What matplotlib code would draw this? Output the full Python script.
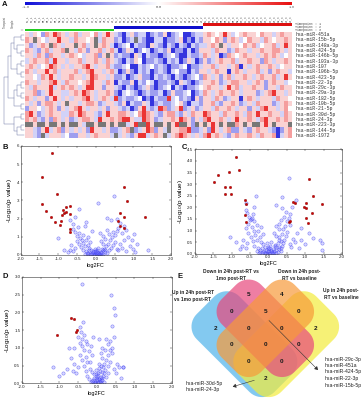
import numpy as np
import matplotlib
matplotlib.use('Agg')
import matplotlib.pyplot as plt
from matplotlib.colors import LinearSegmentedColormap
from matplotlib.patches import Rectangle, Polygon, FancyArrowPatch

plt.rcParams['font.family'] = ['Liberation Sans', 'DejaVu Sans']

# ---------------- data ----------------
mirs = ['hsa-miR-451a', 'hsa-miR-15b-5p', 'hsa-miR-148a-3p', 'hsa-miR-424-5p',
        'hsa-miR-146b-5p', 'hsa-miR-103a-3p', 'hsa-miR-107', 'hsa-miR-106b-5p',
        'hsa-miR-423-5p', 'hsa-miR-22-3p', 'hsa-miR-29c-3p', 'hsa-miR-29a-3p',
        'hsa-miR-182-5p', 'hsa-miR-10b-5p', 'hsa-miR-21-5p', 'hsa-miR-30d-5p',
        'hsa-miR-24-3p', 'hsa-miR-223-3p', 'hsa-miR-144-5p', 'hsa-miR-1972']
patient_ids = ['01', '02', '03', '04', '05', '06', '07', '08', '09', '10', '11',
               '12', '13', '14', '15', '16', '17', '18', '19', '20', '21', '22']
timepoints = ['1', '2', '3']
group_colors = ['#22cc22', '#1010cc', '#dd1111']

# heatmap levels: B=strong down, b, l, . , p, r, R=strong up, x=missing
heat_rows = [
    "plp.brpRrpl" "prlpp.rlpRp" "lbBlpbllBbl" "bpBbl.BBbll" "prp.pRpl.pr" "pp.rpplprpp",
    "rpxp.lppRpp" "lrpp.pxlrpp" "blBblxlbBBl" "lBbblpBbBlb" "pp.rpbprpl." "rpplrp.pprp",
    "pblprpxrplp" "pxprlpxprpl" "Bbl.BlbbBpl" "bBlbBlbBlbl" "lprpxplpp.r" "prl.pprlpRp",
    "rplbprlpprx" "plrpbpprlpr" "lBbplBb.lBb" "lbpBbbBlBbp" "pplrppblrpp" "lpprpprrplp",
    "pplrpbrpplp" "rp.lpprbpxp" "blbbBplBlbb" "Bbl.bBBlbbl" "rplpBbrp.pr" "pplprprpl.p",
    "lprpprlRppl" "pprlpprplrp" "lbBlbp.Bbbl" "bBlblBbplBb" "pblprpprlpp" "rppbrplpprp",
    "prpl.pRrplp" "lpprRplpprl" "bbl.BBlbl.b" "lbBbbl.Bbbl" "pprlpplprBp" "lprpprpl.pp",
    "rplppRprlpp" "prlprRpplpr" "lBbpbBlblBb" "lbBl.bbBlbp" "plprppBprpl" "pprlpbprppl",
    "pp.lrpRplpp" "rpplpRrpplp" "bblBblpbbBl" "blbBlbBbl.b" "rplpbprlppr" "plprpprlpRp",
    "rpplpprRplr" "pp.prRpplrp" "BlbbpBlb.lB" "bblbBplbBbl" "pprpblprrpp" "lprpbprppl.",
    "plrpppRlprp" "rplpRRppbpp" "lbBlbBblpbB" "bl.BlbBbbl." "prpplpRprlp" "prppbpplrpp",
    "pprblpRppll" "prpRrplpprp" "bBl.lbBblbb" "lBbpbbl.Bbl" "rplprpprplp" "ppblprRpplp",
    "rplppbpRplp" "lpprRplprpl" "Rblbbl.BbBl" "bbRl.blbBpb" "pplrpblppBp" "rplppplrpp.",
    "plpbprrplpx" "pplprrpblpp" "lbpBlbbplBb" "lbbl.pbBllb" "pprlbpprpbl" "plrpppblprp",
    "bpp.lprpbpl" "prRplpplpbp" "plblBbpRlbl" "RrblpRblpbl" "pplrpprplpp" "bplrRpplpr.",
    "rRpblprppll" "rpRrpplbpRp" "prrpl.rRrpl" "bprrlbplrpp" "Rrpplrpprpl" "rpRpprpplrp",
    "rprlbpbrplp" "blprrplRppr" "prRRpllRrpb" "lpprpRrpbpl" "rRpprplpRpp" "rplrRpprprp",
    "xxpxxpxxpxp" "xxplxxpxxpx" "pxxlpRxxRpx" "xpxpRxxpbxp" "xpRpxpxxrpx" "pxxpRpxpppx",
    "pplbpRlprbp" "lplpbRpplpb" "blprxblpRrb" "plxpprrRbbl" "pbRplprbbpl" "bprpplbBbpr",
    "pplbxlpppl." "bbpplprpppl" "xlplbpRRlpr" "pxlprRrplpl" "rRprplbprpp" "rplrpprBlpr",
]
level = {'B': -2.1, 'b': -1.0, 'l': -0.45, '.': 0.0, 'p': 0.45, 'r': 1.0, 'R': 2.1, 'x': np.nan}

# row dendrogram (leaf = row index)
row_tree = ((((((0, 1), (2, (3, 4))), ((5, 6), (7, 8))),
              (((9, 10), (11, 12)), (13, 14)))),
            ((15, 16), ((17, 18), 19)))

# volcano B
b_blue_x = [-0.05, 0.02, 0.08, -0.1, 0.05, -0.02, 0.12, -0.15, 0.0, 0.1, -0.08, 0.15, -0.2, 0.2, 0.04,
            -0.12, 0.18, -0.25, 0.25, -0.03, 0.07, -0.18, 0.22, -0.3, 0.3, 0.01, -0.06, 0.11, -0.22, 0.16,
            -0.35, 0.35, -0.4, 0.4, -0.28, 0.28, -0.45, 0.45, -0.5, 0.5, -0.33, 0.33, -0.55, 0.55, -0.6,
            0.6, -0.38, 0.38, -0.2, 0.2, -0.15, 0.15, -0.42, 0.42, -0.65, 0.65, -0.7, 0.7, -0.25, 0.25,
            0.75, -0.75, 0.8, 0.9, 1.0, 1.1, -0.85, 0.85, 0.95, 1.05,
            -0.5, 0.5, -0.55, 0.55, -0.62, 0.6, -0.45, 0.45, -0.35, 0.35, -0.6, 0.65, -0.3, 0.3, -0.25,
            0.4, -0.48, 0.7, 0.75, 0.2, -0.2, 0.8, 0.1, -0.1,
            0.48, 0.06, -0.45, -1.0, 1.38, 1.01, 0.29, 0.55, -0.55, -0.7,
            -0.04, 0.03, 0.09, -0.09, 0.13, -0.13, 0.06, -0.07, 0.17, -0.17, 0.0, 0.02, -0.01, 0.24, -0.24]
b_blue_y = [0.05, 0.03, 0.06, 0.1, 0.12, 0.15, 0.08, 0.05, 0.2, 0.18, 0.22, 0.14, 0.12, 0.05, 0.28,
            0.3, 0.25, 0.2, 0.15, 0.35, 0.4, 0.38, 0.35, 0.08, 0.1, 0.08, 0.02, 0.01, 0.03, 0.02,
            0.3, 0.28, 0.45, 0.4, 0.5, 0.48, 0.6, 0.55, 0.75, 0.7, 0.65, 0.62, 0.4, 0.35, 0.2,
            0.25, 0.8, 0.85, 0.55, 0.6, 0.7, 0.75, 0.95, 0.98, 0.55, 0.6, 0.3, 0.4, 0.85, 0.9,
            0.8, 0.15, 0.2, 0.5, 0.35, 0.6, 0.3, 1.0, 0.85, 0.15,
            1.05, 1.1, 1.25, 1.3, 1.45, 1.5, 1.2, 1.25, 1.1, 1.15, 1.7, 1.75, 1.6, 1.4, 1.8,
            1.9, 1.55, 1.2, 1.6, 1.05, 1.0, 1.35, 1.2, 1.3,
            3.24, 2.87, 2.51, 0.95, 0.27, 1.15, 2.05, 2.0, 2.1, 1.9,
            0.0, 0.01, 0.03, 0.04, 0.11, 0.07, 0.09, 0.14, 0.33, 0.26, 0.12, 0.17, 0.24, 0.27, 0.09]
b_red_x = [-1.16, -1.44, -1.43, -1.33, -1.19, -1.09, -1.04, -0.95, -0.93, -0.89, -0.87, -0.85, -0.80,
           -0.79, -0.69, -0.69, -0.70, -0.69, 0.76, 0.82, 0.64, 0.60, 0.75, 0.64, 0.75, 1.31]
b_red_y = [5.59, 4.30, 2.78, 2.42, 2.09, 1.80, 3.33, 1.65, 1.89, 2.20, 2.47, 2.33, 2.65,
           2.38, 2.71, 2.25, 1.41, 1.28, 3.75, 2.98, 2.33, 1.87, 2.10, 1.59, 1.47, 2.10]

# volcano C
c_blue_x = [-0.05, 0.03, 0.1, -0.12, 0.06, -0.02, 0.15, -0.18, 0.0, 0.12, -0.1, 0.2, -0.22, 0.25, 0.05,
            -0.15, 0.18, -0.28, 0.3, -0.05, 0.08, -0.2, 0.25, -0.32, 0.33, 0.02, -0.08, 0.12, -0.25, 0.2,
            0.3, 0.35, 0.28, 0.4, 0.35,
            -0.38, 0.38, -0.42, 0.42, -0.3, 0.3, -0.48, 0.48, -0.55, 0.52, -0.35, 0.36, -0.58, 0.58, -0.62,
            0.62, -0.4, 0.4, -0.22, 0.22, -0.15, 0.15, -0.45, 0.45, -0.68, 0.68, -0.72, 0.72, -0.28, 0.28,
            0.78, -0.78, 0.82, 0.9, 1.0, 1.1, -0.88, 0.9, -0.6, 0.6,
            -0.55, -0.5, -0.48, -0.45, -0.52, -0.42, -0.58, 0.5, 0.55, 0.42, 0.48, 0.38, 0.3, -0.3, -0.38,
            0.35, 0.2, -0.62, -0.2, 0.6, 0.65, -0.4,
            0.55, -0.33, 0.37, -1.03, 1.41, 1.45, 1.46, 1.21, 0.75, -0.6, 0.2,
            -0.03, 0.04, 0.09, -0.09, 0.14, -0.14, 0.07, -0.07, 0.18, -0.18, 0.0, 0.01, 0.22, -0.24]
c_blue_y = [0.05, 0.02, 0.08, 0.1, 0.15, 0.2, 0.05, 0.04, 0.28, 0.22, 0.3, 0.18, 0.15, 0.06, 0.35,
            0.4, 0.38, 0.25, 0.2, 0.45, 0.5, 0.5, 0.45, 0.1, 0.12, 0.1, 0.03, 0.02, 0.02, 0.01,
            0.3, 0.55, 0.6, 0.45, 0.25,
            0.35, 0.35, 0.55, 0.6, 0.6, 0.7, 0.7, 0.75, 0.9, 0.95, 0.8, 0.85, 0.45, 0.4, 0.25,
            0.3, 1.0, 1.05, 0.7, 0.75, 0.85, 0.9, 1.15, 1.2, 0.6, 0.65, 0.35, 0.5, 1.0, 1.05,
            0.9, 0.2, 0.25, 0.6, 0.4, 0.9, 0.5, 1.1, 1.1, 1.25,
            1.3, 1.45, 1.5, 1.55, 1.6, 1.7, 1.75, 1.4, 1.55, 1.6, 1.8, 1.95, 1.3, 1.25, 1.4,
            1.45, 1.2, 1.9, 1.15, 1.7, 2.0, 2.0,
            3.25, 2.49, 2.43, 0.73, 0.59, 0.45, 0.16, 0.69, 2.3, 2.2, 2.1,
            0.0, 0.01, 0.03, 0.05, 0.1, 0.07, 0.12, 0.16, 0.33, 0.26, 0.13, 0.24, 0.27, 0.08]
c_red_x = [-0.87, -1.48, -1.37, -1.08, -0.80, -1.17, -1.03, -1.17, -1.01, -0.64, -0.62, -0.64, -0.60,
           0.67, 0.72, 0.57, 0.59, 1.10, 1.21, 0.96, 1.03, 1.03, 1.19, 1.03, 1.07, 1.46]
c_red_y = [4.16, 3.10, 3.39, 3.53, 3.61, 2.86, 2.89, 2.57, 2.57, 2.31, 2.13, 1.67, 1.35,
           2.24, 2.17, 1.35, 1.40, 3.21, 2.49, 2.03, 2.17, 1.96, 1.77, 1.55, 1.34, 2.13]

# volcano D
d_blue_x = [-0.05, 0.02, 0.08, -0.1, 0.05, -0.02, 0.12, -0.15, 0.0, 0.1, -0.08, 0.15, -0.2, 0.2, 0.04,
            -0.12, 0.18, -0.25, 0.25, -0.03, 0.07, -0.18, 0.22, 0.01, -0.06, 0.11, 0.16, 0.12, 0.2, 0.05,
            -0.3, 0.3, -0.35, 0.3, -0.25, 0.25, -0.4, 0.35, -0.45, 0.4, -0.3, 0.3, -0.5, 0.45, -0.55,
            0.5, -0.35, 0.35, -0.18, 0.15, -0.12, 0.1, -0.4, 0.4, -0.6, 0.55, -0.65, 0.6, -0.22, 0.22,
            -0.7, -0.8, -0.9, -1.0, 0.65, -0.75, 0.7,
            -0.45, -0.4, -0.35, -0.5, -0.3, -0.42, -0.38, -0.45, -0.25, 0.3, 0.35, 0.4, 0.45, 0.25, -0.15,
            0.15, 0.05, -0.1,
            -0.39, 0.38, 0.46, 0.49, -1.16, 0.71, -0.6,
            -0.04, 0.03, 0.09, -0.09, 0.13, -0.13, 0.06, -0.07, 0.17, 0.0, 0.02, -0.01, 0.08, 0.14]
d_blue_y = [0.05, 0.03, 0.07, 0.1, 0.12, 0.16, 0.08, 0.05, 0.22, 0.18, 0.25, 0.15, 0.12, 0.05, 0.3,
            0.32, 0.28, 0.22, 0.18, 0.38, 0.42, 0.4, 0.38, 0.1, 0.02, 0.02, 0.45, 0.5, 0.55, 0.55,
            0.35, 0.3, 0.5, 0.5, 0.6, 0.65, 0.65, 0.6, 0.8, 0.85, 0.75, 0.8, 0.45, 0.4, 0.3,
            0.3, 0.95, 0.95, 0.6, 0.7, 0.8, 0.85, 1.05, 1.0, 0.55, 0.55, 0.35, 0.45, 0.9, 0.95,
            0.7, 0.4, 0.3, 0.2, 0.15, 1.0, 0.45,
            1.15, 1.25, 1.35, 1.3, 1.2, 1.45, 1.72, 1.6, 1.1, 1.1, 1.2, 1.62, 1.3, 1.25, 1.05,
            1.0, 1.25, 1.3,
            2.81, 2.5, 2.12, 1.93, 0.47, 0.45, 1.0,
            0.0, 0.01, 0.03, 0.04, 0.1, 0.07, 0.13, 0.16, 0.2, 0.12, 0.24, 0.27, 0.35, 0.33]
d_red_x = [-0.70, -0.61, -0.56, -0.52, -1.07]
d_red_y = [1.84, 1.81, 1.46, 1.51, 1.35]

# Venn (4 sets)
venn_sets = ['Up in 24h post-RT\nvs 1mo post-RT', 'Down in 24h post-RT vs\n1mo post-RT',
             'Down in 24h post-\nRT vs baseline', 'Up in 24h post-\nRT vs baseline']
venn_colors = ['#4fb3ea', '#e8487c', '#f79a3a', '#f3ec3c']
# (a, b) lattice cell -> count
venn_cells = [(-2, -1), (-2, 1), (-1, 2), (1, 2),
              (-2, 0), (-1, 1), (0, 2), (-1, 0), (0, 1), (-1, -1), (0, 0), (1, 1),
              (0, -1), (1, 0), (1, -1)]
venn_counts = [2, 5, 4, 2,
               0, 5, 0, 0, 0, 0, 0, 0,
               0, 0, 2]
list_common5 = ['hsa-miR-29c-3p', 'hsa-miR-451a', 'hsa-miR-424-5p', 'hsa-miR-22-3p', 'hsa-miR-15b-5p']
list_blue_yellow = ['hsa-miR-30d-5p', 'hsa-miR-24-3p']

# ---------------- figure ----------------
W, H = 364, 400
fig = plt.figure(figsize=(W / 100, H / 100), dpi=100)


def rect(l, t, r, b):
    return [l / W, 1 - b / H, (r - l) / W, (b - t) / H]


ov = fig.add_axes([0, 0, 1, 1])
ov.axis('off')

# ---- panel A : heatmap ----
HL, HR, HT, HB = 25, 292, 32, 138
ncol = 66
rowh = (HB - HT) / len(mirs)
colw = (HR - HL) / ncol
rows = []
for r in heat_rows:
    r = (r + '.' * ncol)[:ncol]
    rows.append([level[c] for c in r])
M = np.array(rows)
cmap = LinearSegmentedColormap.from_list('bwr2', ['#1010d8', '#ffffff', '#e81010'])
cmap.set_bad('#777777')
VM = 2.5
ov.imshow(np.ma.masked_invalid(M), cmap=cmap, vmin=-VM, vmax=VM,
          extent=(HL, HR, HB, HT), aspect='auto', interpolation='nearest', zorder=1)
# colour key
ov.imshow(np.linspace(-VM, VM, 256)[None, :], cmap=cmap, vmin=-VM, vmax=VM,
          extent=(HL, HR, 5, 2), aspect='auto', zorder=1)
for xv, t in [(HL, '-1.6'), ((HL + HR) / 2, '0.0'), (HR, '1.6')]:
    ov.text(xv, 7.2, t, fontsize=2.3, ha='center', va='center', color='#444',
            family='Liberation Mono')
# column labels
for j in range(ncol):
    lab = patient_ids[j % 22] + '_' + timepoints[j // 22]
    ov.text(HL + (j + 0.5) * colw, 21.5, lab, rotation=90, fontsize=2.0, ha='center',
            va='bottom', color='#555', family='Liberation Mono')
# group bars
bar_y = [28.5, 26.2, 23.4]
for g in range(3):
    ov.add_patch(Rectangle((HL + g * 22 * colw, bar_y[g]), 22 * colw, 2.6,
                           color=group_colors[g], lw=0, zorder=2))
for k, t in enumerate(timepoints):
    ov.text(295, 23.6 + k * 3.0, 'Timepoint : ' + t, fontsize=2.4, va='center',
            color='#444', family='Liberation Mono')
ov.text(5, 28, 'Timepoint', rotation=90, fontsize=2.0, va='bottom', ha='center', color='#555')
ov.text(13, 28, 'Sample', rotation=90, fontsize=2.0, va='bottom', ha='center', color='#555')
ov.plot([21, 23], [30, 30], color='#555', lw=0.3)
# row labels
for i, name in enumerate(mirs):
    ov.text(295, HT + (i + 0.5) * rowh, name, fontsize=3.5, va='center',
            color='#333', family='Liberation Mono')
# dendrogram
DX = 3.3


def draw_tree(node):
    if isinstance(node, int):
        return HT + (node + 0.5) * rowh, 0
    y1, h1 = draw_tree(node[0])
    y2, h2 = draw_tree(node[1])
    h = max(h1, h2) + 1
    xr = HL - 1 - h * DX
    ov.plot([HL - 1 - h1 * DX, xr, xr, HL - 1 - h2 * DX], [y1, y1, y2, y2],
            color='#6f7aa8', lw=0.35, zorder=2)
    return (y1 + y2) / 2, h


draw_tree(row_tree)

# ---- volcano plots ----
ylab = r'-Log$_{10}$(p value)'


def volcano(box, bx, by, rx, ry, ymax, ystep, yfmt):
    ax = fig.add_axes(rect(*box))
    ax.scatter(bx, by, s=5.5, facecolor=(0.5, 0.5, 1.0, 0.3),
               edgecolor=(0.25, 0.25, 0.95, 0.7), linewidth=0.35, zorder=2)
    ax.scatter(rx, ry, s=3, facecolor='#d40000', edgecolor='#7a0000', linewidth=0.3, zorder=3)
    ax.set_xlim(-2, 2)
    ax.set_ylim(0, ymax)
    xt = np.arange(-2, 2.01, 0.5)
    ax.set_xticks(xt)
    ax.set_xticklabels(['%.1f' % v for v in xt])
    yt = np.arange(0, ymax + 0.001, ystep)
    ax.set_yticks(yt)
    ax.set_yticklabels([yfmt % v for v in yt])
    ax.tick_params(direction='in', length=1.5, width=0.3, labelsize=3.2, pad=1.2,
                   top=True, right=True, colors='#222')
    for s in ax.spines.values():
        s.set_linewidth(0.4)
        s.set_color('#333')
    ax.set_xlabel('log2FC', fontsize=4.0, labelpad=1.5)
    ax.set_ylabel(ylab, fontsize=4.6, labelpad=1.5)
    return ax


volcano((20.7, 145.8, 171, 255), b_blue_x, b_blue_y, b_red_x, b_red_y, 6, 1, '%d')
volcano((194.7, 149.3, 342, 253.7), c_blue_x, c_blue_y, c_red_x, c_red_y, 4.5, 0.5, '%.1f')
volcano((22, 277, 171.7, 383.3), d_blue_x, d_blue_y, d_red_x, d_red_y, 3.0, 0.5, '%.1f')

# ---- panel E : Venn ----
VX, VY, STEP = 265.3, 345.0, 16.7


def to_px(a, b):
    return VX + (a + b) * STEP, VY + (a - b) * STEP


def rrect(a0, a1, b0, b1, r, n=12):
    pts = []
    corners = [(a1 - r, b1 - r, 0), (a0 + r, b1 - r, 90), (a0 + r, b0 + r, 180), (a1 - r, b0 + r, 270)]
    for ca, cb, st in corners:
        for t in np.linspace(np.radians(st), np.radians(st + 90), n):
            pts.append(to_px(ca + r * np.cos(t), cb + r * np.sin(t)))
    return pts


E = 0.18
shapes = [(-2.5 - E - 0.3, 1.5 + E, -1.5 - E - 0.2, 0.5 + E),   # blue
          (-2.5 - E, 1.5 + E, -0.5 - E, 1.5 + E),                # pink
          (-1.5 - E, 0.5 + E, -1.5 - E, 2.5 + E),                # orange
          (-0.5 - E, 1.5 + E + 0.2, -1.5 - E, 2.5 + E + 0.3)]    # yellow
order = [0, 3, 1, 2]
for k in order:
    a0, a1, b0, b1 = shapes[k]
    ov.add_patch(Polygon(rrect(a0, a1, b0, b1, 0.75), closed=True, facecolor=venn_colors[k],
                         edgecolor='none', alpha=0.7, zorder=3))
for (a, b), n in zip(venn_cells, venn_counts):
    x, y = to_px(a, b)
    ov.text(x, y, str(n), fontsize=4.6, fontweight='bold', ha='center', va='center',
            color='#1a1a1a', zorder=5)

ov.text(193, 296, venn_sets[0], fontsize=3.5, fontweight='bold', ha='center', va='center',
        color='#222', linespacing=1.3, zorder=5)
ov.text(231, 275, venn_sets[1], fontsize=3.5, fontweight='bold', ha='center', va='center',
        color='#222', linespacing=1.3, zorder=5)
ov.text(299, 275, venn_sets[2], fontsize=3.5, fontweight='bold', ha='center', va='center',
        color='#222', linespacing=1.3, zorder=5)
ov.text(341, 294, venn_sets[3], fontsize=3.5, fontweight='bold', ha='center', va='center',
        color='#222', linespacing=1.3, zorder=5)

for k, t in enumerate(list_common5):
    ov.text(325, 359 + k * 6.5, t, fontsize=3.7, va='center', color='#222', zorder=5)
for k, t in enumerate(list_blue_yellow):
    ov.text(186, 383.5 + k * 6.0, t, fontsize=3.7, va='center', color='#222', zorder=5)

ov.add_patch(FancyArrowPatch((267, 318.5), (320, 372), arrowstyle='-|>,head_length=2,head_width=1.2',
                             color='#333', lw=0.4, zorder=6))
ov.add_patch(FancyArrowPatch((257, 379.5), (230, 387.5), arrowstyle='-|>,head_length=2,head_width=1.2',
                             color='#333', lw=0.4, zorder=6))

# panel letters
for t, x, y in [('A', 5, 5), ('B', 5, 147.5), ('C', 184, 147.5), ('D', 5, 276), ('E', 180, 276)]:
    ov.text(x, y, t, fontsize=5.5, fontweight='bold', ha='center', va='center', color='#111')

ov.set_xlim(0, W)
ov.set_ylim(H, 0)
fig.savefig('out.png', dpi=100)
